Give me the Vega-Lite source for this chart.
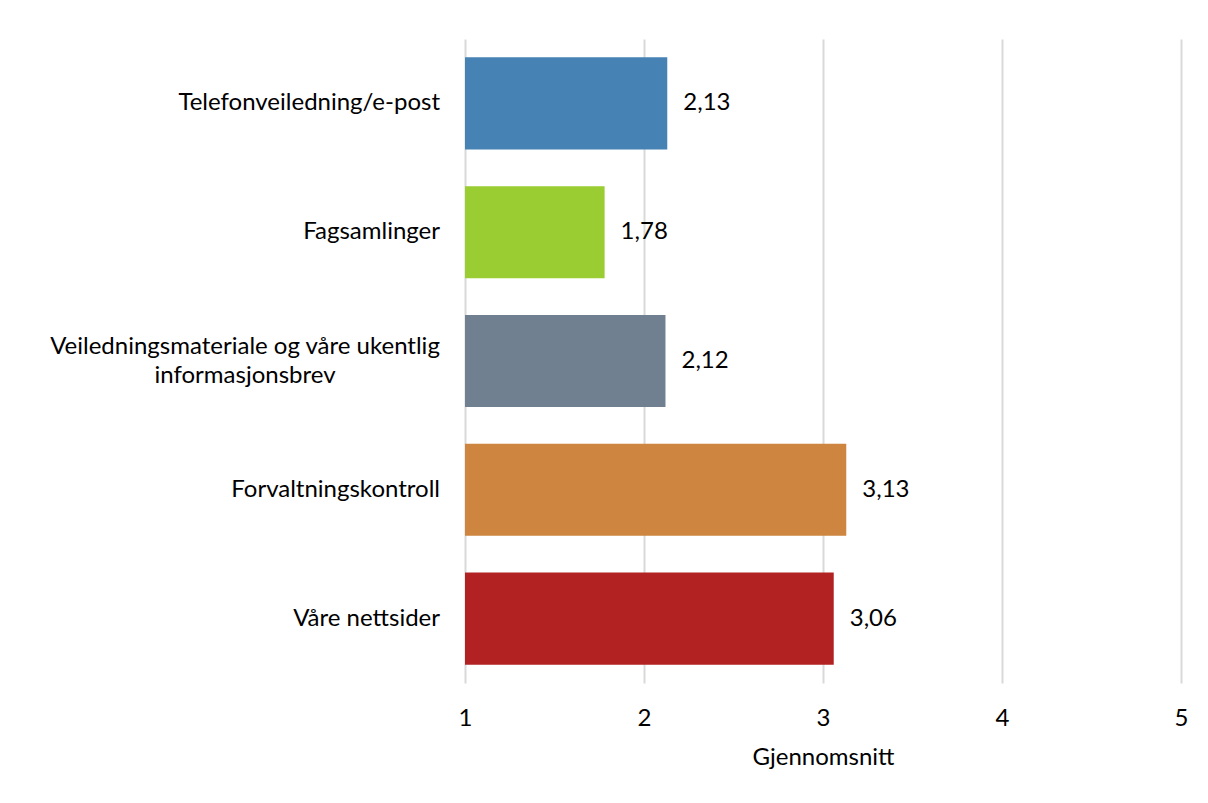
{
  "$schema": "https://vega.github.io/schema/vega-lite/v6.json",
  "autosize": {"type": "none"},
  "width": 716,
  "height": 644,
  "padding": {"left": 465, "top": 39, "right": 27, "bottom": 120},
  "background": "white",
  "config": {
    "view": {"stroke": null},
    "font": "Lato",
    "locale": {"number": {"decimal": ",", "thousands": " ", "grouping": [3], "currency": ["", " kr"]}}
  },
  "data": {
    "values": [
      {"kategori": "Telefonveiledning/e-post", "snitt": 2.13, "farge": "#4682b4", "linjer": 1},
      {"kategori": "Fagsamlinger", "snitt": 1.78, "farge": "#9acd32", "linjer": 1},
      {"kategori": "Veiledningsmateriale og våre ukentlig\ninformasjonsbrev", "snitt": 2.12, "farge": "#708090", "linjer": 2},
      {"kategori": "Forvaltningskontroll", "snitt": 3.13, "farge": "#cd853f", "linjer": 1},
      {"kategori": "Våre nettsider", "snitt": 3.06, "farge": "#b22222", "linjer": 1}
    ]
  },
  "encoding": {
    "y": {
      "field": "kategori",
      "type": "nominal",
      "sort": null,
      "scale": {"paddingInner": 0.285, "paddingOuter": 0.1425},
      "axis": null
    },
    "x": {
      "field": "snitt",
      "type": "quantitative",
      "scale": {"domain": [1, 5], "nice": false, "zero": false},
      "axis": {
        "title": "Gjennomsnitt",
        "titleFontSize": 24,
        "titleFontWeight": "normal",
        "titleColor": "#000000",
        "titlePadding": 15,
        "values": [1, 2, 3, 4, 5],
        "format": "d",
        "labelFlush": false,
        "domain": false,
        "ticks": false,
        "grid": true,
        "gridColor": "#d9d9d9",
        "gridWidth": 2,
        "labelPadding": 23,
        "labelFontSize": 24,
        "labelColor": "#000000"
      }
    }
  },
  "layer": [
    {
      "mark": {"type": "bar"},
      "encoding": {
        "x2": {"datum": 1},
        "color": {"field": "farge", "type": "nominal", "scale": null, "legend": null}
      }
    },
    {
      "mark": {"type": "text", "align": "left", "dx": 16, "fontSize": 24, "color": "#000000"},
      "encoding": {
        "text": {"field": "snitt", "type": "quantitative", "format": ".2f"}
      }
    },
    {
      "transform": [{"filter": "datum.linjer == 1"}],
      "mark": {"type": "text", "align": "right", "baseline": "middle", "dx": -25, "fontSize": 24, "color": "#000000"},
      "encoding": {
        "x": {"datum": 1},
        "text": {"field": "kategori", "type": "nominal"}
      }
    },
    {
      "transform": [{"filter": "datum.linjer == 2"}],
      "mark": {"type": "text", "align": "center", "baseline": "middle", "dx": -220, "dy": -14, "fontSize": 24, "lineBreak": "\n", "lineHeight": 29, "color": "#000000"},
      "encoding": {
        "x": {"datum": 1},
        "text": {"field": "kategori", "type": "nominal"}
      }
    }
  ]
}
